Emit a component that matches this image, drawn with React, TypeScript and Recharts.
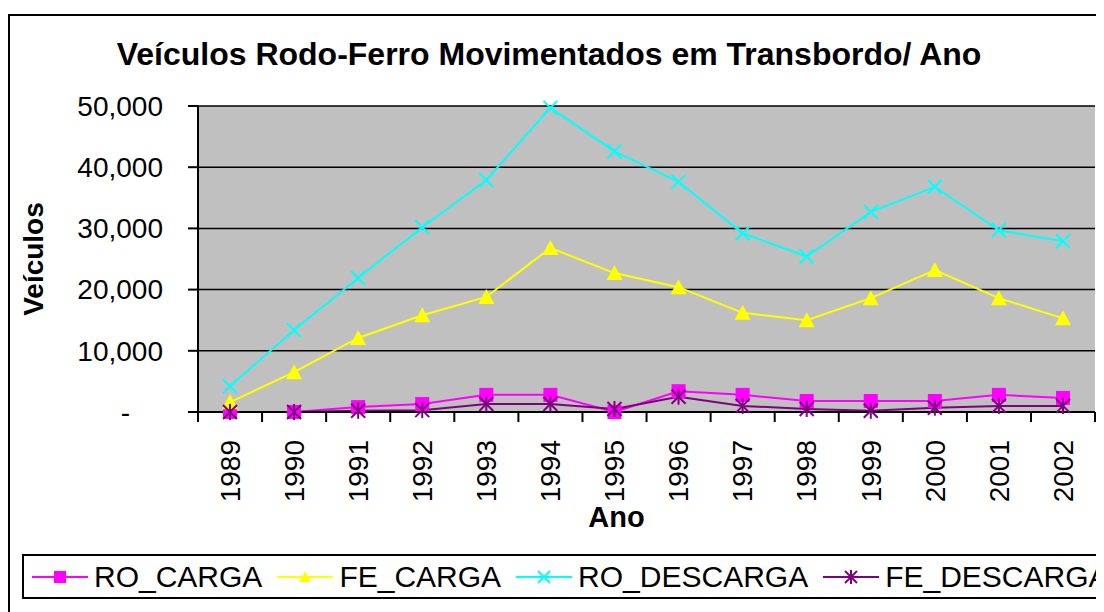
import React from 'react';
import { LineChart, Line, XAxis, YAxis, CartesianGrid } from 'recharts';

const years = ['1989', '1990', '1991', '1992', '1993', '1994', '1995', '1996', '1997', '1998', '1999', '2000', '2001', '2002'];
const roCarga = [0, 0, 800, 1300, 2800, 2800, 0, 3400, 2800, 1800, 1800, 1800, 2800, 2300];
const feCarga = [1600, 6500, 12100, 15800, 18800, 26800, 22700, 20400, 16200, 15000, 18600, 23200, 18600, 15300];
const roDescarga = [4200, 13400, 21900, 30200, 37900, 49700, 42600, 37600, 29200, 25400, 32700, 36800, 29700, 27900];
const feDescarga = [0, 0, 200, 300, 1300, 1300, 500, 2500, 1000, 500, 200, 700, 1000, 1000];
const yTicks = [0, 10000, 20000, 30000, 40000, 50000];

const data = years.map((ano, i) => ({
  ano,
  RO_CARGA: roCarga[i],
  FE_CARGA: feCarga[i],
  RO_DESCARGA: roDescarga[i],
  FE_DESCARGA: feDescarga[i],
}));

const FONT = '"Liberation Sans", Arial, sans-serif';

const Square = ({ cx, cy, s = 7, color }: any) => (
  <rect x={cx - s} y={cy - s} width={s * 2} height={s * 2} fill={color} />
);
const Triangle = ({ cx, cy, s = 8, color }: any) => (
  <polygon points={`${cx},${cy - s} ${cx + s},${cy + s - 1} ${cx - s},${cy + s - 1}`} fill={color} />
);
const Cross = ({ cx, cy, s = 7, color }: any) => (
  <g stroke={color} strokeWidth={2}>
    <line x1={cx - s} y1={cy - s} x2={cx + s} y2={cy + s} />
    <line x1={cx - s} y1={cy + s} x2={cx + s} y2={cy - s} />
  </g>
);
const Star = ({ cx, cy, s = 7, color }: any) => (
  <g stroke={color} strokeWidth={2}>
    <line x1={cx - s} y1={cy - s} x2={cx + s} y2={cy + s} />
    <line x1={cx - s} y1={cy + s} x2={cx + s} y2={cy - s} />
    <line x1={cx} y1={cy - s - 1} x2={cx} y2={cy + s + 1} />
  </g>
);

const series = [
  { key: 'RO_CARGA', color: '#ff00ff', Marker: Square },
  { key: 'FE_CARGA', color: '#ffff00', Marker: Triangle },
  { key: 'RO_DESCARGA', color: '#00ffff', Marker: Cross },
  { key: 'FE_DESCARGA', color: '#800080', Marker: Star },
];

const XTick = (props: any) => {
  const { x, y, payload, index } = props;
  const ty = y + 28;
  return (
    <g>
      <line x1={x - 32} x2={x - 32} y1={y} y2={y + 10} stroke="#000" strokeWidth={2} />
      {index === years.length - 1 && (
        <line x1={x + 32} x2={x + 32} y1={y} y2={y + 10} stroke="#000" strokeWidth={2} />
      )}
      <text
        x={x}
        y={ty}
        dy="0.35em"
        textAnchor="end"
        transform={`rotate(-90 ${x} ${ty})`}
        fontSize={28}
        fontFamily={FONT}
        fill="#000"
      >
        {payload.value}
      </text>
    </g>
  );
};

const YTick = (props: any) => {
  const { x, y, payload } = props;
  const zero = payload.value === 0;
  return (
    <text
      x={zero ? x - 33 : x}
      y={y}
      dy="0.35em"
      textAnchor="end"
      fontSize={28}
      fontFamily={FONT}
      fill="#000"
    >
      {zero ? '-' : payload.value.toLocaleString('en-US')}
    </text>
  );
};

const YLabel = (props: any) => {
  const { viewBox } = props;
  const cx = viewBox.x + 25;
  const cy = viewBox.y + viewBox.height / 2;
  return (
    <text
      x={cx}
      y={cy}
      dy="0.35em"
      textAnchor="middle"
      transform={`rotate(-90 ${cx} ${cy})`}
      fontSize={28}
      fontWeight="bold"
      fontFamily={FONT}
      fill="#000"
    >
      Veículos
    </text>
  );
};

const XLabel = (props: any) => {
  const { viewBox } = props;
  return (
    <text
      x={viewBox.x + viewBox.width / 2 - 30}
      y={viewBox.y + 115}
      textAnchor="middle"
      fontSize={29}
      fontWeight="bold"
      fontFamily={FONT}
      fill="#000"
    >
      Ano
    </text>
  );
};

const LegendBox = () => (
  <div
    style={{
      position: 'absolute',
      left: 14,
      top: 546,
      width: 1200,
      height: 41,
      border: '2px solid #000',
      display: 'flex',
      alignItems: 'center',
      paddingLeft: 8,
      fontFamily: FONT,
      fontSize: 30,
      color: '#000',
    }}
  >
    {series.map(({ key, color, Marker }) => (
      <div key={key} style={{ display: 'flex', alignItems: 'center', marginRight: 15 }}>
        <svg width={56} height={20} style={{ marginRight: 6 }}>
          <line x1={0} x2={56} y1={10} y2={10} stroke={color} strokeWidth={2} />
          <Marker cx={28} cy={10} s={6} color={color} />
        </svg>
        <span style={{ lineHeight: '30px' }}>{key}</span>
      </div>
    ))}
  </div>
);

export default function App() {
  return (
    <div style={{ position: 'relative', width: 1096, height: 604, overflow: 'hidden', background: '#fff' }}>
      <div
        style={{
          position: 'absolute',
          left: 0,
          top: 6,
          width: 1200,
          height: 700,
          border: '2px solid #000',
          boxSizing: 'border-box',
        }}
      />
      <div
        style={{
          position: 'absolute',
          left: 0,
          top: 28,
          width: 1082,
          textAlign: 'center',
          fontFamily: FONT,
          fontSize: 32,
          fontWeight: 'bold',
          lineHeight: '36px',
          color: '#000',
        }}
      >
        Veículos Rodo-Ferro Movimentados em Transbordo/ Ano
      </div>
      <div style={{ position: 'absolute', left: 0, top: 0 }}>
        <LineChart width={1096} height={604} data={data} margin={{ top: 98, right: 9, left: 0, bottom: 0 }}>
          <CartesianGrid vertical={false} stroke="#000" strokeWidth={1.5} fill="#c0c0c0" fillOpacity={1} />
          <XAxis
            dataKey="ano"
            height={200}
            interval={0}
            padding={{ left: 32, right: 32 }}
            tickSize={0}
            tickMargin={0}
            tickLine={false}
            axisLine={{ stroke: '#000', strokeWidth: 2 }}
            tick={<XTick />}
            label={<XLabel />}
          />
          <YAxis
            width={190}
            domain={[0, 50000]}
            ticks={yTicks}
            tickSize={10}
            tickMargin={25}
            tickLine={{ stroke: '#000', strokeWidth: 2 }}
            axisLine={{ stroke: '#000', strokeWidth: 2 }}
            tick={<YTick />}
            label={<YLabel />}
          />
          <YAxis
            yAxisId="right"
            orientation="right"
            width={0}
            domain={[0, 50000]}
            tick={false}
            tickLine={false}
            axisLine={{ stroke: '#000', strokeWidth: 2 }}
          />
          {series.map(({ key, color, Marker }) => (
            <Line
              key={key}
              dataKey={key}
              stroke={color}
              strokeWidth={2}
              isAnimationActive={false}
              activeDot={false}
              dot={(p: any) => <Marker key={`${key}-${p.index}`} cx={p.cx} cy={p.cy} color={color} />}
            />
          ))}
        </LineChart>
      </div>
      <LegendBox />
    </div>
  );
}
